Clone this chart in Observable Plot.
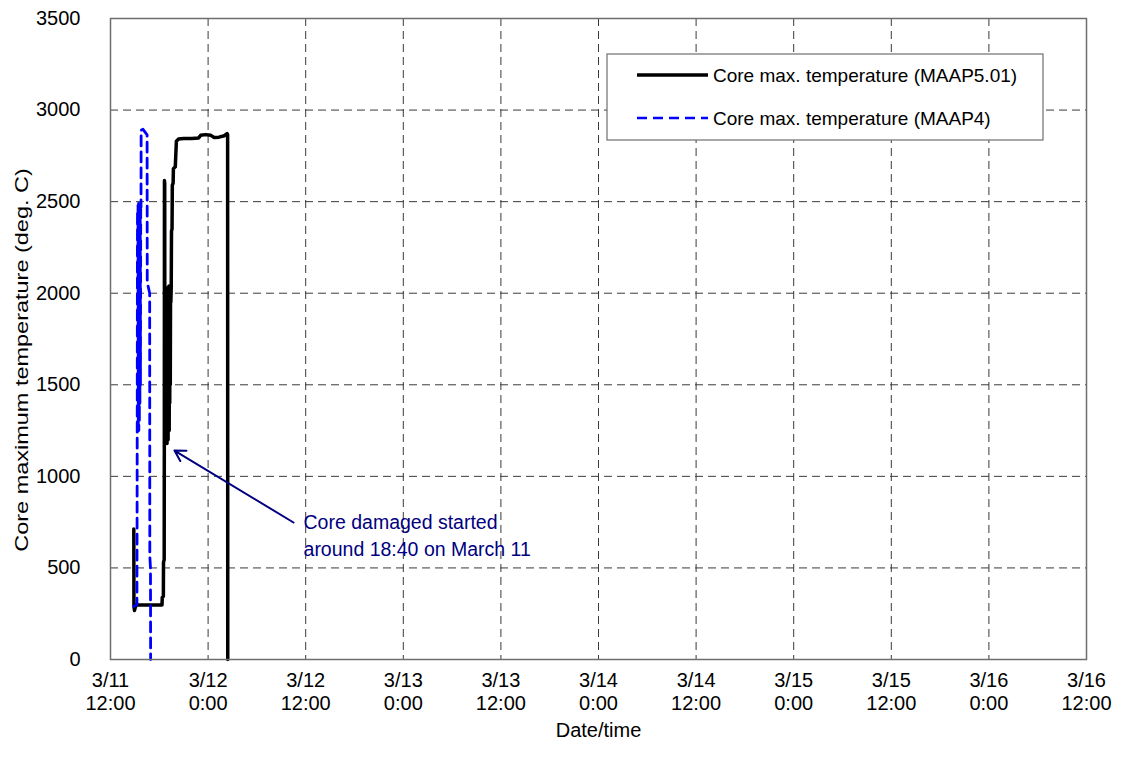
<!DOCTYPE html>
<html>
<head>
<meta charset="utf-8">
<script src="https://cdn.jsdelivr.net/npm/d3@7"></script>
<script src="https://cdn.jsdelivr.net/npm/@observablehq/plot@0.6"></script>
<style>
  html, body { margin: 0; padding: 0; background: #fff; }
  #chart { width: 1122px; height: 762px; }
</style>
</head>
<body>
<div id="chart"></div>
<script>
// ---- Data ----
// MAAP5.01 core maximum temperature
const maap5Times = [
  "2011-03-11T14:52","2011-03-11T14:53","2011-03-11T14:57","2011-03-11T15:03","2011-03-11T15:10",
  "2011-03-11T18:20","2011-03-11T18:22","2011-03-11T18:30","2011-03-11T18:31","2011-03-11T18:36",
  "2011-03-11T18:37","2011-03-11T18:38","2011-03-11T18:40","2011-03-11T18:41",
  "2011-03-11T18:43","2011-03-11T18:45","2011-03-11T18:47","2011-03-11T18:49","2011-03-11T18:51",
  "2011-03-11T18:53","2011-03-11T18:55","2011-03-11T18:57","2011-03-11T18:59","2011-03-11T19:01",
  "2011-03-11T19:03","2011-03-11T19:05","2011-03-11T19:07","2011-03-11T19:09","2011-03-11T19:11",
  "2011-03-11T19:13","2011-03-11T19:15","2011-03-11T19:17","2011-03-11T19:19","2011-03-11T19:21",
  "2011-03-11T19:23","2011-03-11T19:25",
  "2011-03-11T19:28","2011-03-11T19:30","2011-03-11T19:34","2011-03-11T19:36","2011-03-11T19:42",
  "2011-03-11T19:44","2011-03-11T19:58","2011-03-11T20:06","2011-03-11T20:22","2011-03-11T21:00",
  "2011-03-11T22:00","2011-03-11T22:50","2011-03-11T23:05","2011-03-11T23:40","2011-03-12T00:20",
  "2011-03-12T00:45","2011-03-12T01:20","2011-03-12T02:00","2011-03-12T02:20","2011-03-12T02:24",
  "2011-03-12T02:25"
];
const maap5Temps = [
  713, 290, 268, 285, 298,
  298, 340, 345, 530, 545,
  1150, 2615, 2600, 1180,
  1950, 1190, 2000, 1200, 2030,
  1220, 2000, 1180, 2020, 1250,
  2030, 1200, 2000, 1300, 2040,
  1250, 2020, 1400, 2030, 1500,
  2030, 1950,
  2030, 2340, 2350, 2590, 2600,
  2680, 2690, 2830, 2842, 2845,
  2845, 2848, 2862, 2866, 2862,
  2850, 2852, 2860, 2872, 2865,
  0
];
// MAAP4 core maximum temperature
const maap4Times = [
  "2011-03-11T14:52","2011-03-11T15:05","2011-03-11T15:15","2011-03-11T15:16","2011-03-11T15:17",
  "2011-03-11T15:19","2011-03-11T15:21","2011-03-11T15:23","2011-03-11T15:25","2011-03-11T15:27",
  "2011-03-11T15:29","2011-03-11T15:31","2011-03-11T15:33","2011-03-11T15:35","2011-03-11T15:37",
  "2011-03-11T15:39","2011-03-11T15:41","2011-03-11T15:43","2011-03-11T15:45","2011-03-11T15:46",
  "2011-03-11T16:00","2011-03-11T16:30","2011-03-11T16:31","2011-03-11T16:49","2011-03-11T16:50",
  "2011-03-11T16:55","2011-03-11T16:56"
];
const maap4Temps = [
  290, 295, 300, 700, 1220,
  2450, 1230, 2480, 1260, 2490,
  1250, 2480, 1300, 2490, 1400,
  2480, 1500, 2490, 2470, 2890,
  2895, 2865, 2060, 2000, 563,
  500, 0
];

// Axis ticks
const xTickTimes = [
  "2011-03-11T12:00","2011-03-12T00:00","2011-03-12T12:00","2011-03-13T00:00","2011-03-13T12:00",
  "2011-03-14T00:00","2011-03-14T12:00","2011-03-15T00:00","2011-03-15T12:00","2011-03-16T00:00",
  "2011-03-16T12:00"
];
const xTickLabels = [
  "3/11\n12:00","3/12\n0:00","3/12\n12:00","3/13\n0:00","3/13\n12:00",
  "3/14\n0:00","3/14\n12:00","3/15\n0:00","3/15\n12:00","3/16\n0:00","3/16\n12:00"
];
const yTicks = [0, 500, 1000, 1500, 2000, 2500, 3000, 3500];
const xTitle = "Date/time";
const yTitle = "Core maximum temperature (deg. C)";

// Annotation (arrow tail -> head in data space, text anchor)
const annotArrow = [{t1: "2011-03-12T10:30", v1: 748, t2: "2011-03-11T19:52", v2: 1141}];
const annotText = [{t: "2011-03-12T11:44", v: 686, label: "Core damaged started\naround 18:40 on March 11"}];

const seriesNames = ["Core max. temperature (MAAP5.01)", "Core max. temperature (MAAP4)"];

// ---- Build ----
const P = s => new Date(s + "Z");
const maap5 = maap5Times.map((t, i) => ({t: P(t), v: maap5Temps[i]}));
const maap4 = maap4Times.map((t, i) => ({t: P(t), v: maap4Temps[i]}));
const xTicks = xTickTimes.map(P);
const labelMap = new Map(xTicks.map((d, i) => [+d, xTickLabels[i]]));
const arrows = annotArrow.map(d => ({x1: P(d.t1), y1: d.v1, x2: P(d.t2), y2: d.v2}));
const texts = annotText.map(d => ({x: P(d.t), y: d.v, label: d.label}));

const FONT = "'Liberation Sans', Arial, Helvetica, sans-serif";
const gridStyle = {stroke: "#3a3a3a", strokeOpacity: 1, strokeWidth: 1, strokeDasharray: "8,5"};

const chart = Plot.plot({
  width: 1122,
  height: 762,
  marginLeft: 110,
  marginRight: 36,
  marginTop: 18,
  marginBottom: 103,
  style: {fontFamily: FONT, fontSize: "20px", color: "#000", background: "#fff"},
  x: {type: "utc", domain: [xTicks[0], xTicks[xTicks.length - 1]]},
  y: {domain: [0, 3500]},
  marks: [
    Plot.gridX(xTicks, gridStyle),
    Plot.gridY(yTicks, gridStyle),
    Plot.axisX(xTicks, {
      tickSize: 0, tickPadding: 11, lineHeight: 1.15,
      tickFormat: d => labelMap.get(+d),
      label: xTitle, labelAnchor: "center", labelArrow: "none", labelOffset: 77
    }),
    Plot.axisY(yTicks, {
      tickSize: 0, tickPadding: 30, tickFormat: d => String(d), label: null
    }),
    Plot.line(maap5, {x: "t", y: "v", stroke: "#000", strokeWidth: 3.5, curve: "linear"}),
    Plot.line(maap4, {x: "t", y: "v", stroke: "#0000ff", strokeWidth: 2.8, strokeDasharray: "10,6"}),
    Plot.frame({stroke: "#6e6e6e", strokeWidth: 1.5}),
    Plot.arrow(arrows, {x1: "x1", y1: "y1", x2: "x2", y2: "y2", stroke: "#000080", strokeWidth: 2, headLength: 9, bend: 0}),
    Plot.text(texts, {x: "x", y: "y", text: "label", fill: "#000080", textAnchor: "start", lineAnchor: "middle", lineHeight: 1.4, fontSize: 19.5})
  ]
});

document.getElementById("chart").appendChild(chart);

const svg = d3.select(chart);

// ---- Y axis title (reference text is elongated along its reading direction) ----
svg.append("text")
  .attr("transform", "translate(21,360) rotate(-90) scale(1,0.82)")
  .attr("text-anchor", "middle").attr("dy", "0.35em")
  .attr("font-family", FONT).attr("font-size", 23.5)
  .attr("fill", "#000").text(yTitle);

// ---- Legend (boxed, inside plot area, top-right) ----
const lg = svg.append("g").attr("font-family", FONT).attr("font-size", 19).attr("text-anchor", "start");
lg.append("rect").attr("x", 607).attr("y", 54).attr("width", 436).attr("height", 86)
  .attr("fill", "#fff").attr("stroke", "#6e6e6e").attr("stroke-width", 1.2);
const rows = [
  {name: seriesNames[0], stroke: "#000", width: 3.5, dash: null, y: 75},
  {name: seriesNames[1], stroke: "#0000ff", width: 2.5, dash: "10,6", y: 118}
];
rows.forEach(r => {
  const ln = lg.append("line").attr("x1", 637).attr("x2", 708).attr("y1", r.y).attr("y2", r.y)
    .attr("stroke", r.stroke).attr("stroke-width", r.width);
  if (r.dash) ln.attr("stroke-dasharray", r.dash);
  lg.append("text").attr("x", 713).attr("y", r.y).attr("dy", "0.35em").attr("fill", "#000").text(r.name);
});
</script>
</body>
</html>
